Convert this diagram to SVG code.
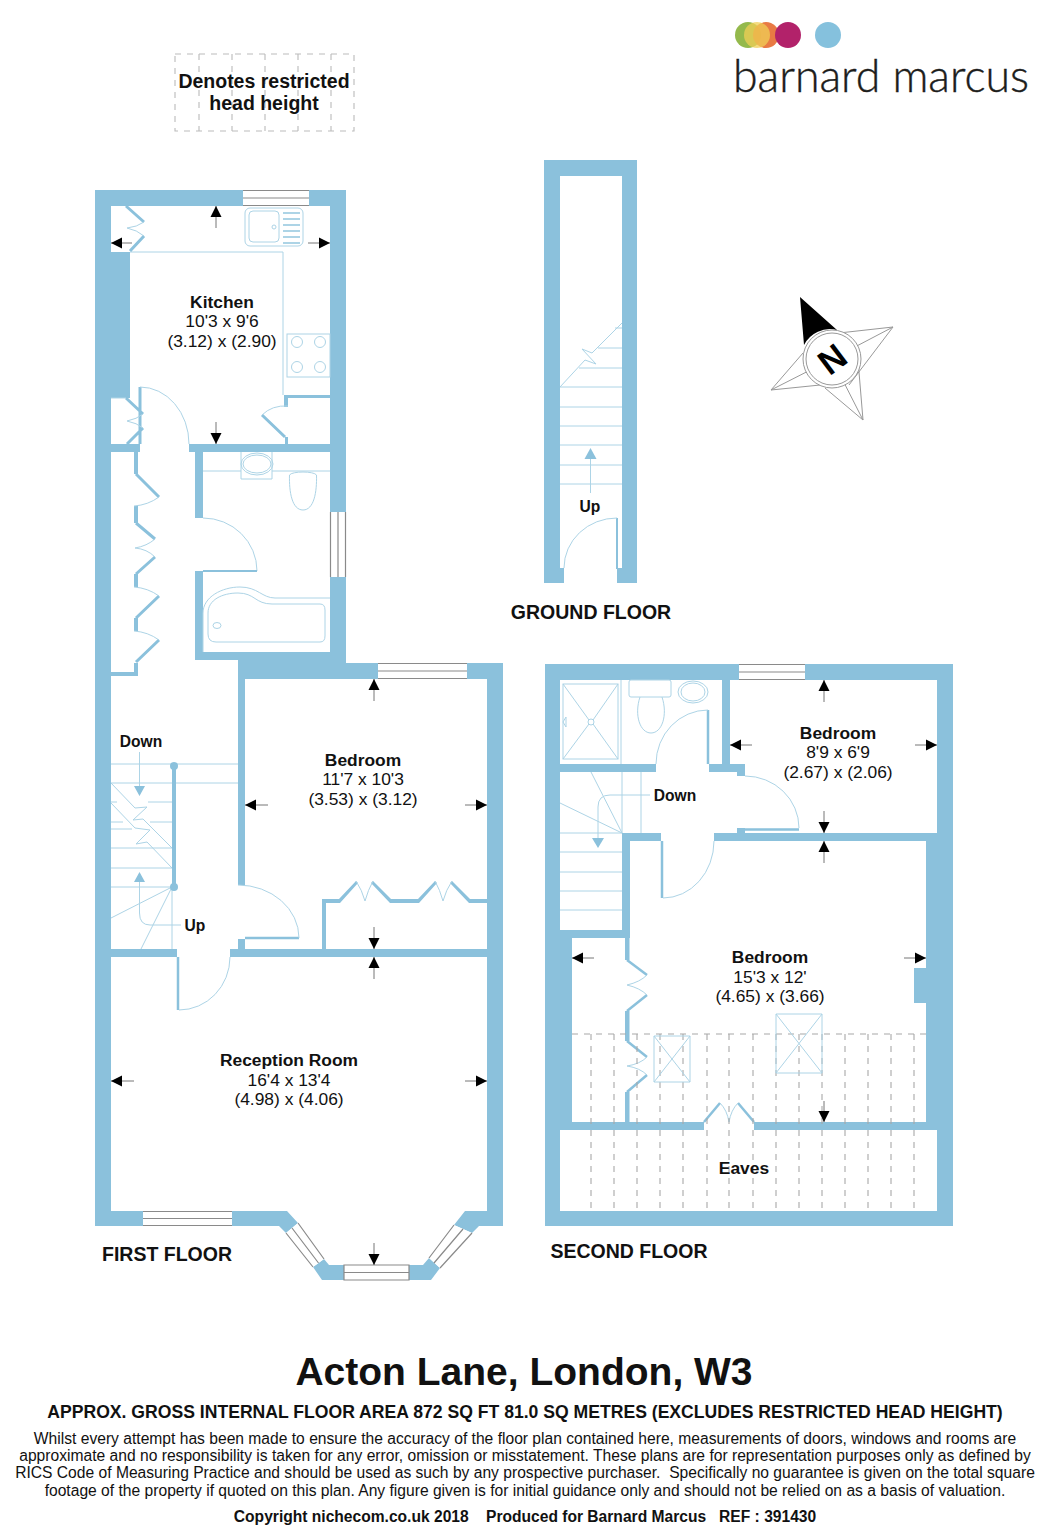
<svg xmlns="http://www.w3.org/2000/svg" width="1053" height="1536" viewBox="0 0 1053 1536">
<style>
text{font-family:"Liberation Sans",Arial,sans-serif;fill:#111;text-anchor:middle;white-space:pre}
.r{font-size:17.4px}
.b{font-weight:bold}
.l{font-size:15.6px}
.h{font-size:19.5px}
.t{font-size:15.63px}
.w{fill:#8bc1dc}
.f{fill:none;stroke:#add4e6;stroke-width:1}
.s{fill:none;stroke:#8bc1dc;stroke-width:3}
.win{fill:#fff;stroke:none}
.wl{fill:none;stroke:#8a8a8a;stroke-width:1.2}
.dash{fill:none;stroke:#a8a8a8;stroke-width:1.1;stroke-dasharray:6 6}
.dim{fill:none;stroke:#777;stroke-width:1;marker-end:url(#ah)}
.tri{fill:#8bc1dc}
</style>
<defs>
<marker id="ah" markerUnits="userSpaceOnUse" markerWidth="12" markerHeight="12" refX="11" refY="6" orient="auto"><path d="M0,.5L11,6L0,11.500Z" fill="#000"/></marker>
</defs>
<rect width="1053" height="1536" fill="#fff"/>

<g id="legend">
<path class="dash" style="stroke:#bbb" d="M175,54H354V131H175ZM199,54V131M232,54V131M265,54V131M298,54V131M331,54V131"/>
<text class="b" x="264" y="88" font-size="19.500">Denotes restricted</text>
<text class="b" x="264" y="110" font-size="19.500">head height</text>
</g>

<g id="logo">
<circle cx="748" cy="35" r="13" fill="#94b94c"/>
<circle cx="766" cy="35" r="13" fill="#e56b30" opacity=".9"/>
<circle cx="757" cy="35" r="13" fill="#f0cf55" opacity=".75"/>
<circle cx="788" cy="35" r="13" fill="#b2226a"/>
<circle cx="828" cy="35" r="13" fill="#85c1dd"/>
<text x="881" y="92" font-size="46" textLength="296" lengthAdjust="spacingAndGlyphs" style="font-family:Lato,'Open Sans',sans-serif;font-weight:300;fill:#1d1d1b;stroke:#1d1d1b;stroke-width:.4">barnard marcus</text>
</g>

<g id="compass">
<path d="M893,327L830,334M893,327L832,359M893,327L849,385M863,420L825,388M863,420L832,359M863,420L858,360M771,390L830,384M771,390L832,359M771,390L803,353" fill="none" stroke="#999" stroke-width="1"/>
<path d="M800,297L837,330A29,29 0 0 0 804,345Z" fill="#000"/>
<circle cx="832" cy="359" r="29" fill="#fff" stroke="#999" stroke-width="1"/>
<circle cx="832" cy="359" r="26" fill="#fff" stroke="#999" stroke-width="1"/>
<text class="b" x="0" y="0" font-size="35" transform="translate(832,359) rotate(-37) translate(0,12.500)" style="fill:#000">N</text>
</g>

<g id="ground-floor">
<path class="w" fill-rule="evenodd" d="M544,160H637V583H617V568H622V176H560V568H564V583H544Z"/>
<path class="s" d="M617,518V569" style="stroke-width:2"/>
<path class="f" d="M617,518A53,50 0 0 0 564,568"/>
<path class="f" d="M622,323L592,353L582,349L596,364L585,360L560,387M615,328H622M598,348H622M579,368H622M560,387H622M560,407H622M560,426H622M560,445H622M560,465H622M560,484H622M590.500,493V459"/>
<path class="tri" d="M590.500,448L584.500,459H596.500Z"/>
<text class="b l" x="590" y="512">Up</text>
<text class="b h" x="591" y="619">GROUND FLOOR</text>
</g>

<g id="first-floor-walls">
<rect class="w" x="95" y="190" width="251" height="16"/>
<rect class="w" x="95" y="190" width="16" height="1036"/>
<rect class="w" x="111" y="252" width="19" height="146"/>
<rect class="w" x="330" y="190" width="16" height="489"/>
<rect class="w" x="189" y="444" width="157" height="8"/>
<rect class="w" x="111" y="444" width="29" height="8"/>
<rect class="w" x="195" y="452" width="8" height="66"/>
<rect class="w" x="195" y="571" width="8" height="89"/>
<rect class="w" x="195" y="652" width="151" height="8"/>
<rect class="w" x="238" y="660" width="108" height="19"/>
<rect class="w" x="346" y="663" width="157" height="16"/>
<rect class="w" x="238" y="679" width="7" height="206"/>
<rect class="w" x="487" y="663" width="16" height="563"/>
<rect class="w" x="111" y="949" width="66" height="8"/>
<rect class="w" x="230" y="949" width="257" height="8"/>
<rect class="w" x="238" y="939" width="7" height="10"/>
<rect class="w" x="111" y="672" width="27" height="4"/>
<rect class="w" x="95" y="1211" width="192" height="15"/>
<path class="w" d="M270,1211H287L298,1223L286,1233L279,1226H270Z"/>
<path class="w" d="M465,1211L454,1225L472,1233L479,1226H503V1211Z"/>
<path class="w" d="M324,1259L329,1265H344V1280H322L313,1267ZM409,1265H423L429,1258L440,1268L431,1280H409Z"/>
<rect class="w" x="134" y="452" width="4" height="22"/><rect class="w" x="134" y="506" width="4" height="17"/><rect class="w" x="134" y="574" width="4" height="13"/><rect class="w" x="134" y="618" width="4" height="13"/><rect class="w" x="134" y="663" width="4" height="13"/>
<path class="s" d="M136,474L159,497M136,523L155,539M155,557L136,574M159,596L136,618M159,640L136,662"/>
<rect class="w" x="322" y="899" width="4" height="50"/>
<path class="w" d="M322,899H339L356,881L358,883L340,903H322ZM373,881L391,899H418L435,881L437,883L419,903H390L371,883ZM452,881L470,899H487V903H469L450,883Z"/>
<rect class="w" x="284" y="395" width="46" height="3"/><rect class="w" x="284" y="395" width="4" height="12"/><rect class="w" x="285" y="437" width="3" height="7"/>
<rect class="win" x="243" y="190" width="66" height="16"/>
<path class="wl" d="M243,190.500H309M243,198H309M243,205.500H309"/>
<rect class="win" x="330" y="512" width="16" height="65"/>
<path class="wl" d="M330.500,512V577M338,512V577M345.500,512V577"/>
<rect class="win" x="378" y="663" width="89" height="16"/>
<path class="wl" d="M378,663.500H467M378,671H467M378,678.500H467"/>
<rect class="win" x="143" y="1211" width="89" height="15"/>
<path class="wl" d="M143,1211.500H232M143,1218.500H232M143,1225.500H232"/>
<rect class="win" x="344" y="1265" width="65" height="15"/>
<path class="wl" d="M344,1265H409V1280H344ZM344,1272.500H409"/>
<path class="win" d="M298,1223L324,1259L313,1267L286,1233Z"/>
<path class="wl" d="M298,1223L324,1259M292,1228L318.500,1263M286,1233L313,1267"/>
<path class="win" d="M454,1225L472,1233L440,1268L429,1258Z"/>
<path class="wl" d="M454,1225L429,1258M463,1229L434,1263M472,1233L440,1268"/>
</g>

<g id="first-floor-fixtures">
<path class="f" d="M130,252H283V395"/>
<rect class="f" x="245" y="208" width="58" height="38" rx="5"/>
<rect class="f" x="249" y="211" width="30" height="31" rx="4"/>
<circle class="f" cx="274" cy="227" r="2"/>
<path class="f" style="stroke-width:2" d="M283,213H300M283,219H300M283,225H300M283,231H300M283,237H300M283,243H300"/>
<rect class="f" x="287" y="334" width="43" height="43"/>
<circle class="f" cx="297" cy="342" r="5.500"/><circle class="f" cx="320" cy="342" r="5.500"/><circle class="f" cx="297" cy="367" r="5.500"/><circle class="f" cx="320" cy="367" r="5.500"/>
<path class="s" d="M126,206L144,222M144,236L130,251M126,398L143,414M143,428L127,444M140,387V444M262,415L285,437"/>
<path class="f" d="M144,222Q137,227 127,228Q137,230 144,236M143,414Q137,419 127,421Q137,423 143,428M111,398H126"/>
<path class="f" d="M140,387A49,57 0 0 1 189,444M288,406Q272,405 262,415"/>
<path class="f" d="M203,518A54,53 0 0 1 257,571"/>
<path class="s" style="stroke-width:2" d="M203,571H257"/>
<path class="f" d="M159,497Q148,505 134,506M155,539Q147,546 135,548Q147,549 155,557M134,587Q148,588 159,596M134,631Q148,632 159,640"/>
<path class="f" d="M203,471H241M272,471H330M241,452V479H272V452"/>
<ellipse class="f" cx="257" cy="464" rx="16" ry="11"/><ellipse class="f" cx="257" cy="464" rx="14" ry="9"/>
<path class="f" d="M289.500,475C289,492 292,510 303,510C314,510 317,492 316.500,475C314,471 292,471 289.500,475Z"/>
<path class="f" d="M203,652V613C203,597 222,587 240,587C258,587 262,598 275,598H330"/>
<path class="f" d="M208,613C208,600 222,593 238,593C255,593 255,604 272,604H320Q325,604 325,610V636Q325,642 320,642H216Q208,642 208,634Z"/>
<ellipse class="f" cx="217" cy="625.500" rx="4" ry="3"/>
<path class="f" d="M111,764H238M111,783H238M111,802H117M148,802H172M111,822H123M150,822H172M111,829H132M111,848H172M111,868H172M111,887H172"/>
<path class="f" d="M111,783L135,808L147,807L133,820L143,819L172,848M111,803L135,828L150,830L136,844L147,842L172,868M172,887L111,918M172,887L141,949M172,887V949"/>
<path d="M174,766V887" stroke="#8bc1dc" stroke-width="4" fill="none"/>
<circle class="tri" cx="174" cy="766" r="4"/><circle class="tri" cx="174" cy="887" r="4"/>
<path class="f" d="M139.500,752V786M139.500,882V913Q139.500,925 150,925H181"/>
<path class="tri" d="M134,786H145L139.500,796ZM134,882H145L139.500,872Z"/>
<path class="s" style="stroke-width:2.500" d="M178,957V1010M245,938H299"/>
<path class="f" d="M179,1010A51,53 0 0 0 230,957M238,885A61,53 0 0 1 299,938"/>
<path class="f" d="M356,881Q362,890 365,901Q368,890 373,881M435,881Q440,890 443,901Q446,890 452,881"/>
</g>

<g id="second-floor-walls">
<rect class="w" x="545" y="664" width="408" height="16"/>
<rect class="w" x="545" y="664" width="15" height="562"/>
<rect class="w" x="937" y="664" width="16" height="562"/>
<rect class="w" x="545" y="1211" width="408" height="15"/>
<rect class="w" x="926" y="841" width="11" height="281"/>
<rect class="w" x="914" y="968" width="12" height="35"/>
<rect class="w" x="560" y="1122" width="144" height="8"/>
<rect class="w" x="754" y="1122" width="183" height="8"/>
<rect class="w" x="560" y="930" width="12" height="192"/>
<rect class="w" x="560" y="930" width="70" height="8"/>
<rect class="w" x="622" y="833" width="8" height="105"/>
<rect class="w" x="625" y="938" width="4.500" height="22"/><rect class="w" x="625" y="1011" width="4.500" height="30"/><rect class="w" x="625" y="1092" width="4.500" height="30"/>
<rect class="w" x="622" y="833" width="39" height="8"/>
<rect class="w" x="714" y="833" width="223" height="8"/>
<rect class="w" x="560" y="764" width="96" height="8"/>
<rect class="w" x="722" y="680" width="8" height="84"/>
<rect class="w" x="709" y="764" width="36" height="8"/>
<rect class="w" x="737" y="772" width="8" height="4"/>
<rect class="w" x="737" y="828" width="8" height="5"/>
<rect class="win" x="739" y="664" width="66" height="16"/>
<path class="wl" d="M739,664.500H805M739,672H805M739,679.500H805"/>
</g>

<g id="second-floor-fixtures">
<rect class="f" x="563" y="684" width="55" height="75"/>
<path class="f" d="M563,684L589,720M618,684L593,720M563,759L589,724M618,759L593,724M621,680V764"/>
<circle class="f" cx="591" cy="722" r="3"/>
<path class="f" d="M566,717L563,722L566,727Z"/>
<rect class="f" x="629" y="680" width="42" height="17" rx="2"/>
<path class="f" d="M640,697C634,715 640,733 651,733C662,733 668,715 662,697"/>
<ellipse class="f" cx="693" cy="692" rx="15" ry="11"/><ellipse class="f" cx="693" cy="692" rx="12" ry="9"/>
<path class="s" style="stroke-width:2.500" d="M708,710V764M745,829.500H799M662,841V898"/>
<path class="f" d="M708,710A52,54 0 0 0 656,764M745,776A54,52 0 0 1 799,828M663,898A51,57 0 0 0 714,841"/>
<path class="f" d="M622,772V833M641,772V833M622,833L591,772M622,833L560,803M560,833H622M560,852H622M560,872H622M560,891H622M560,910H622M650,795H610Q598,795 598,807V838"/>
<path class="tri" d="M592,838H604L598,848Z"/>
<path class="s" style="stroke-width:2.500" d="M627,960L647,975M647,995L627,1011M627,1041L647,1057M647,1075L627,1092M704,1122L720,1103M754,1122L738,1103"/>
<path class="f" d="M647,975Q640,982 627,985Q640,988 647,995M647,1057Q640,1064 627,1066Q640,1068 647,1075M720,1103Q727,1110 729,1122Q731,1110 738,1103"/>
<path class="dash" d="M572,1034H926M591,1034V1211M614,1034V1211M637,1034V1211M660,1034V1211M683,1034V1211M707,1034V1211M729,1034V1211M753,1034V1211M776,1034V1211M799,1034V1211M822,1034V1211M845,1034V1211M868,1034V1211M891,1034V1211M914,1034V1211"/>
<path class="f" d="M654,1036H690V1082H654ZM654,1036L690,1082M690,1036L654,1082M776,1014H822V1073H776ZM776,1014L822,1073M822,1014L776,1073"/>
</g>

<g id="connectors">
<path class="dim" d="M216,228V206"/><path class="dim" d="M132,243H111"/><path class="dim" d="M308,243H330"/><path class="dim" d="M216,422V444"/>
<path class="dim" d="M374,701V679"/><path class="dim" d="M268,805H245"/><path class="dim" d="M465,805H487"/><path class="dim" d="M374,927V949"/>
<path class="dim" d="M374,979V957"/><path class="dim" d="M134,1081H111"/><path class="dim" d="M465,1081H487"/><path class="dim" d="M374,1243V1265"/>
<path class="dim" d="M824,702V680"/><path class="dim" d="M752,745H730"/><path class="dim" d="M915,745H937"/><path class="dim" d="M824,811V833"/>
<path class="dim" d="M824,863V841"/><path class="dim" d="M594,958H572"/><path class="dim" d="M904,958H926"/><path class="dim" d="M824,1101V1122"/>
</g>

<g id="labels">
<text class="r b" x="222" y="308">Kitchen</text><text class="r" x="222" y="327">10'3 x 9'6</text><text class="r" x="222" y="347">(3.12) x (2.90)</text>
<text class="r b" x="363" y="766">Bedroom</text><text class="r" x="363" y="785">11'7 x 10'3</text><text class="r" x="363" y="805">(3.53) x (3.12)</text>
<text class="r b" x="289" y="1066">Reception Room</text><text class="r" x="289" y="1086">16'4 x 13'4</text><text class="r" x="289" y="1105">(4.98) x (4.06)</text>
<text class="r b" x="838" y="739">Bedroom</text><text class="r" x="838" y="758">8'9 x 6'9</text><text class="r" x="838" y="778">(2.67) x (2.06)</text>
<text class="r b" x="770" y="963">Bedroom</text><text class="r" x="770" y="983">15'3 x 12'</text><text class="r" x="770" y="1002">(4.65) x (3.66)</text>
<text class="r b" x="744" y="1174">Eaves</text>
<text class="b l" x="141" y="747">Down</text>
<text class="b l" x="195" y="931">Up</text>
<text class="b l" x="675" y="801">Down</text>
<text class="b h" x="167" y="1261">FIRST FLOOR</text>
<text class="b h" x="629" y="1258">SECOND FLOOR</text>
</g>

<g id="footer">
<text class="b" x="524" y="1385" font-size="39">Acton Lane, London, W3</text>
<text class="b" x="525" y="1418" font-size="17.600">APPROX. GROSS INTERNAL FLOOR AREA 872 SQ FT 81.0 SQ METRES (EXCLUDES RESTRICTED HEAD HEIGHT)</text>
<text class="t" x="525" y="1444">Whilst every attempt has been made to ensure the accuracy of the floor plan contained here, measurements of doors, windows and rooms are</text>
<text class="t" x="525" y="1461">approximate and no responsibility is taken for any error, omission or misstatement. These plans are for representation purposes only as defined by</text>
<text class="t" x="525" y="1478">RICS Code of Measuring Practice and should be used as such by any prospective purchaser.  Specifically no guarantee is given on the total square</text>
<text class="t" x="525" y="1496">footage of the property if quoted on this plan. Any figure given is for initial guidance only and should not be relied on as a basis of valuation.</text>
<text class="b" x="525" y="1522" font-size="15.600">Copyright nichecom.co.uk 2018    Produced for Barnard Marcus   REF : 391430</text>
</g>
</svg>
